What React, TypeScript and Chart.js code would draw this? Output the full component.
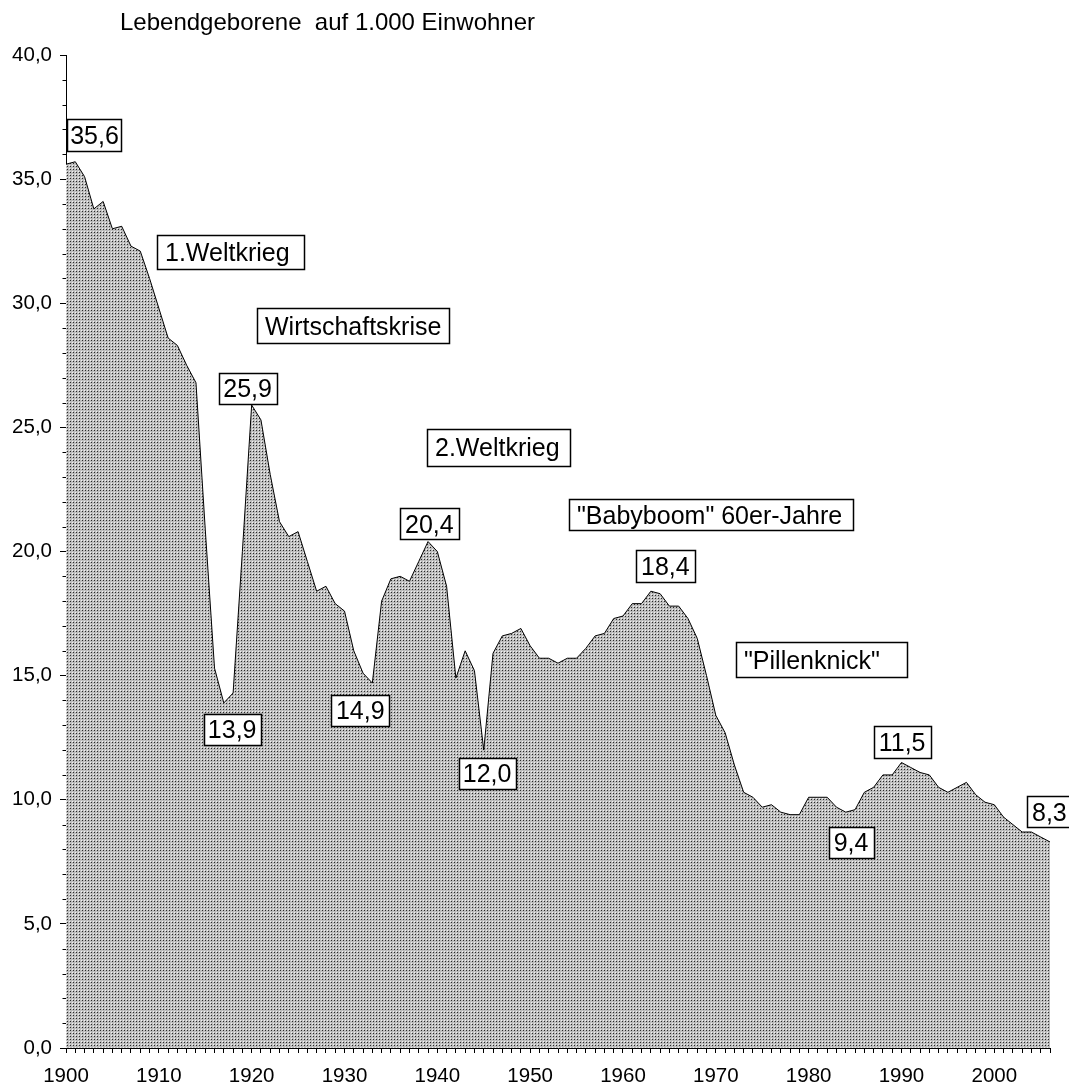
import React, { useEffect, useRef } from 'react';
import { Chart, registerables } from 'chart.js';

Chart.register(...registerables);

// ---------- data ----------
const firstYear = 1900;
const lastYear = 2006;
const years: string[] = [];
for (let y = firstYear; y <= lastYear; y++) years.push(String(y));

// Lebendgeborene je 1.000 Einwohner, 1900 - 2006
const birthRate: number[] = [
  35.6, 35.7, 35.1, 33.8, 34.1, 33.0, 33.1, 32.3, 32.1, 31.0, // 1900-1909
  29.8, 28.6, 28.3, 27.5, 26.8, 20.9, 15.3, 13.9, 14.3, 20.0, // 1910-1919
  25.9, 25.3, 23.1, 21.2, 20.6, 20.8, 19.6, 18.4, 18.6, 17.9, // 1920-1929
  17.6, 16.0, 15.1, 14.7, 18.0, 18.9, 19.0, 18.8, 19.6, 20.4, // 1930-1939
  20.0, 18.6, 14.9, 16.0, 15.2, 12.0, 15.9, 16.6, 16.7, 16.9, // 1940-1949
  16.2, 15.7, 15.7, 15.5, 15.7, 15.7, 16.1, 16.6, 16.7, 17.3, // 1950-1959
  17.4, 17.9, 17.9, 18.4, 18.3, 17.8, 17.8, 17.3, 16.5, 15.0, // 1960-1969
  13.4, 12.7, 11.4, 10.3, 10.1, 9.7, 9.8, 9.5, 9.4, 9.4,      // 1970-1979
  10.1, 10.1, 10.1, 9.7, 9.5, 9.6, 10.3, 10.5, 11.0, 11.0,    // 1980-1989
  11.5, 11.3, 11.1, 11.0, 10.5, 10.3, 10.5, 10.7, 10.2, 9.9,  // 1990-1999
  9.8, 9.3, 9.0, 8.7, 8.7, 8.5, 8.3,                          // 2000-2006
];

const yMin = 0;
const yMax = 40;
const yMajorStep = 5;
const yMinorStep = 1;
const xLabelStep = 10;

const titleText = 'Lebendgeborene  auf 1.000 Einwohner';

// annotation boxes, anchored in data coordinates (box centre)
const annotationTexts = [
  '35,6', '1.Weltkrieg', 'Wirtschaftskrise', '25,9', '2.Weltkrieg', '20,4',
  '"Babyboom" 60er-Jahre', '18,4', '"Pillenknick"', '13,9', '14,9', '12,0',
  '11,5', '9,4', '8,3',
];
const annotationYears = [
  1903.07, 1917.7, 1930.9, 1919.56, 1946.55, 1939.14,
  1969.47, 1964.56, 1981.34, 1917.9, 1931.7, 1945.36,
  1990.07, 1984.57, 2005.93,
];
const annotationValues = [
  36.78, 32.06, 29.1, 26.57, 24.19, 21.12,
  21.48, 19.42, 15.63, 12.83, 13.6, 11.07,
  12.33, 8.28, 9.51,
];

// ---------- styles ----------
const FONT = '"Liberation Sans", Arial, Helvetica, sans-serif';
const annotationBoxWidths = [54, 147, 192, 58, 143, 59, 284, 59, 171, 57, 58, 57, 57, 45, 45];
const annotationBoxHeights = [32, 34, 35, 31, 37, 31, 31, 32, 35, 31, 31, 31, 32, 31, 31];
const annotationLeftAligned = [false, true, true, false, true, false, true, false, true, false, false, false, false, false, false];

function makePattern(): CanvasPattern | string {
  const c = document.createElement('canvas');
  c.width = 3;
  c.height = 3;
  const g = c.getContext('2d');
  if (!g) return '#b4b4b4';
  g.fillStyle = '#bdbdbd';
  g.fillRect(0, 0, 3, 3);
  g.fillStyle = '#f2f2f2';
  g.fillRect(0, 0, 1, 1);
  g.fillStyle = '#2a2a2a';
  g.fillRect(1, 1, 1, 1);
  return g.createPattern(c, 'repeat') || '#b4b4b4';
}

const minorTicksPlugin = {
  id: 'minorTicks',
  afterDraw(chart: any) {
    const ys = chart.scales.y;
    const ctx = chart.ctx;
    const x0 = chart.chartArea.left;
    ctx.save();
    ctx.strokeStyle = '#000';
    ctx.lineWidth = 1;
    for (let v = yMin; v <= yMax; v += yMinorStep) {
      if (v % yMajorStep === 0) continue;
      const py = Math.round(ys.getPixelForValue(v)) + 0.5;
      ctx.beginPath();
      ctx.moveTo(x0 - 3.5, py);
      ctx.lineTo(x0, py);
      ctx.stroke();
    }
    ctx.restore();
  },
};

const annotationPlugin = {
  id: 'boxAnnotations',
  afterDatasetsDraw(chart: any) {
    const xs = chart.scales.x;
    const ys = chart.scales.y;
    const ctx = chart.ctx;
    const size = 25;
    ctx.save();
    ctx.font = `${size}px ${FONT}`;
    ctx.textBaseline = 'alphabetic';
    for (let i = 0; i < annotationTexts.length; i++) {
      const cx = xs.getPixelForValue(annotationYears[i] - firstYear);
      const cy = ys.getPixelForValue(annotationValues[i]);
      const w = annotationBoxWidths[i];
      const h = annotationBoxHeights[i];
      const left = Math.round(cx - w / 2) + 0.5;
      const top = Math.round(cy - h / 2) + 0.5;
      ctx.fillStyle = '#fff';
      ctx.fillRect(left, top, w, h);
      ctx.strokeStyle = '#000';
      ctx.lineWidth = 1.5;
      ctx.strokeRect(left, top, w, h);
      ctx.fillStyle = '#000';
      const by = cy + (size * 0.716) / 2;
      if (annotationLeftAligned[i]) {
        ctx.textAlign = 'left';
        ctx.fillText(annotationTexts[i], left + 7.5, by);
      } else {
        ctx.textAlign = 'center';
        ctx.fillText(annotationTexts[i], cx, by);
      }
    }
    ctx.restore();
  },
};

const titlePlugin = {
  id: 'topTitle',
  afterDraw(chart: any) {
    const ctx = chart.ctx;
    ctx.save();
    ctx.font = `24px ${FONT}`;
    ctx.fillStyle = '#000';
    ctx.textAlign = 'left';
    ctx.textBaseline = 'alphabetic';
    ctx.fillText(titleText, 120, 30);
    ctx.restore();
  },
};

export default function App() {
  const canvasRef = useRef<HTMLCanvasElement | null>(null);

  useEffect(() => {
    const canvas = canvasRef.current;
    if (!canvas) return;
    const chart = new Chart(canvas, {
      type: 'line',
      data: {
        labels: years,
        datasets: [
          {
            data: birthRate,
            fill: 'origin',
            backgroundColor: makePattern() as any,
            borderColor: '#000',
            borderWidth: 1,
            pointRadius: 0,
            pointHoverRadius: 0,
            tension: 0,
          },
        ],
      },
      options: {
        responsive: false,
        animation: false,
        events: [],
        layout: { padding: { top: 55, right: 19, bottom: 0, left: 0 } },
        plugins: {
          legend: { display: false },
          title: { display: false },
          tooltip: { enabled: false },
        },
        scales: {
          x: {
            type: 'category',
            offset: false,
            grid: {
              display: true,
              drawOnChartArea: false,
              drawTicks: true,
              tickLength: 5,
              color: '#000',
              offset: false,
            },
            border: { display: true, color: '#000', width: 1 },
            ticks: {
              autoSkip: false,
              maxRotation: 0,
              minRotation: 0,
              padding: 11,
              color: '#000',
              font: { family: FONT, size: 20.5 },
              callback: (_v: any, i: number) => {
                const yr = firstYear + i;
                return yr % xLabelStep === 0 ? String(yr) : '';
              },
            },
            afterFit: (s: any) => {
              s.height = 38;
            },
          },
          y: {
            type: 'linear',
            min: yMin,
            max: yMax,
            grid: {
              display: true,
              drawOnChartArea: false,
              drawTicks: true,
              tickLength: 6,
              color: '#000',
            },
            border: { display: true, color: '#000', width: 1 },
            ticks: {
              stepSize: yMajorStep,
              padding: 8,
              color: '#000',
              font: { family: FONT, size: 20.5 },
              callback: (v: any) => Number(v).toFixed(1).replace('.', ','),
            },
            afterFit: (s: any) => {
              s.width = 66;
            },
          },
        },
      },
      plugins: [minorTicksPlugin, annotationPlugin, titlePlugin],
    });
    return () => chart.destroy();
  }, []);

  return (
    <div style={{ position: 'absolute', left: 0, top: 0, width: 1069, height: 1086, background: '#fff' }}>
      <canvas ref={canvasRef} width={1069} height={1086} style={{ display: 'block', width: 1069, height: 1086 }} />
    </div>
  );
}
